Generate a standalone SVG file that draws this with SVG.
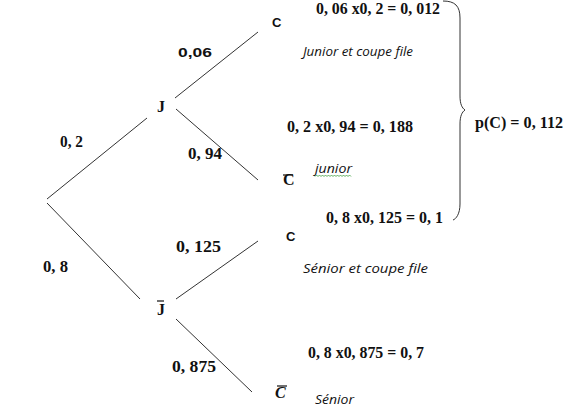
<svg xmlns="http://www.w3.org/2000/svg" width="565" height="408" viewBox="0 0 565 408">
<style>
.m{font-family:"Liberation Serif","DejaVu Serif",serif;font-weight:bold;font-size:16px;fill:#111}
.s{font-family:"Liberation Sans","DejaVu Sans",sans-serif;font-weight:bold;font-size:13px;fill:#111}
.i{font-family:"Open Sans","Liberation Sans",sans-serif;font-style:italic;font-size:12px;fill:#111}
.e{stroke:#333;stroke-width:1;fill:none}
</style>
<rect width="565" height="408" fill="#fff"/>
<g id="connectors">
<line class="e" x1="47" y1="199" x2="147" y2="118"/>
<line class="e" x1="47" y1="203" x2="140" y2="299"/>
<line class="e" x1="175" y1="98" x2="258" y2="32"/>
<line class="e" x1="176" y1="109" x2="258" y2="180"/>
<line class="e" x1="176" y1="299" x2="258" y2="241"/>
<line class="e" x1="176" y1="319" x2="252" y2="392"/>
<text class="m" x="60" y="147" textLength="23" lengthAdjust="spacingAndGlyphs">0, 2</text>
<text class="m" x="43" y="272" textLength="25" lengthAdjust="spacingAndGlyphs">0, 8</text>
<text class="s" x="178" y="57" textLength="34" lengthAdjust="spacingAndGlyphs">0,06</text>
<text class="m" x="188" y="159" textLength="34" lengthAdjust="spacingAndGlyphs">0, 94</text>
<text class="m" x="176" y="252" textLength="45" lengthAdjust="spacingAndGlyphs">0, 125</text>
<text class="m" x="172" y="372" textLength="44" lengthAdjust="spacingAndGlyphs">0, 875</text>
</g>
<g id="node-J"><text class="m" x="157" y="112">J</text></g>
<g id="node-Jbar"><text class="m" x="157" y="315">J</text><line x1="157" y1="301" x2="164" y2="301" stroke="#111" stroke-width="1.2"/></g>
<g id="node-C1">
<text class="s" x="272" y="27">C</text>
<text class="m" x="316" y="14" font-size="15" textLength="124" lengthAdjust="spacingAndGlyphs">0, 06 x0, 2 = 0, 012</text>
<text class="i" x="303" y="56" textLength="110" lengthAdjust="spacingAndGlyphs">Junior et coupe file</text>
</g>
<g id="node-C2">
<text class="m" x="283" y="185">C</text><line x1="283" y1="175" x2="293" y2="175" stroke="#111" stroke-width="1.2"/>
<text class="m" x="287" y="132" textLength="126" lengthAdjust="spacingAndGlyphs">0, 2 x0, 94 = 0, 188</text>
<text class="i" x="315" y="173" textLength="37" lengthAdjust="spacingAndGlyphs">junior</text>
<path d="M315,176.5 l1.5,-1.5 l1.5,1.5 l1.5,-1.5 l1.5,1.5 l1.5,-1.5 l1.5,1.5 l1.5,-1.5 l1.5,1.5 l1.5,-1.5 l1.5,1.5 l1.5,-1.5 l1.5,1.5 l1.5,-1.5 l1.5,1.5 l1.5,-1.5 l1.5,1.5 l1.5,-1.5 l1.5,1.5 l1.5,-1.5 l1.5,1.5 l1.5,-1.5 l1.5,1.5 l1.5,-1.5 l1.5,1.5" fill="none" stroke="#3a9a3a" stroke-width="0.8"/>
</g>
<g id="node-C3">
<text class="s" x="286" y="241">C</text>
<text class="m" x="326" y="223" textLength="117" lengthAdjust="spacingAndGlyphs">0, 8 x0, 125 = 0, 1</text>
<text class="i" x="303" y="273" textLength="125" lengthAdjust="spacingAndGlyphs">Sénior et coupe file</text>
</g>
<g id="node-C4">
<text class="m" x="275" y="398" font-style="italic">C</text><line x1="277" y1="386" x2="287" y2="386" stroke="#111" stroke-width="1.2"/>
<text class="m" x="308" y="358" textLength="116" lengthAdjust="spacingAndGlyphs">0, 8 x0, 875 = 0, 7</text>
<text class="i" x="315" y="404" textLength="39" lengthAdjust="spacingAndGlyphs">Sénior</text>
</g>
<g id="total">
<path class="e" d="M443,1 C455,1 460,6 460,18 L460,96 C460,104 462,108 465,110 C462,112 460,116 460,124 L460,204 C460,214 456,219 453,220"/>
<text class="m" x="475" y="128" textLength="88" lengthAdjust="spacingAndGlyphs">p(C) = 0, 112</text>
</g>
</svg>
